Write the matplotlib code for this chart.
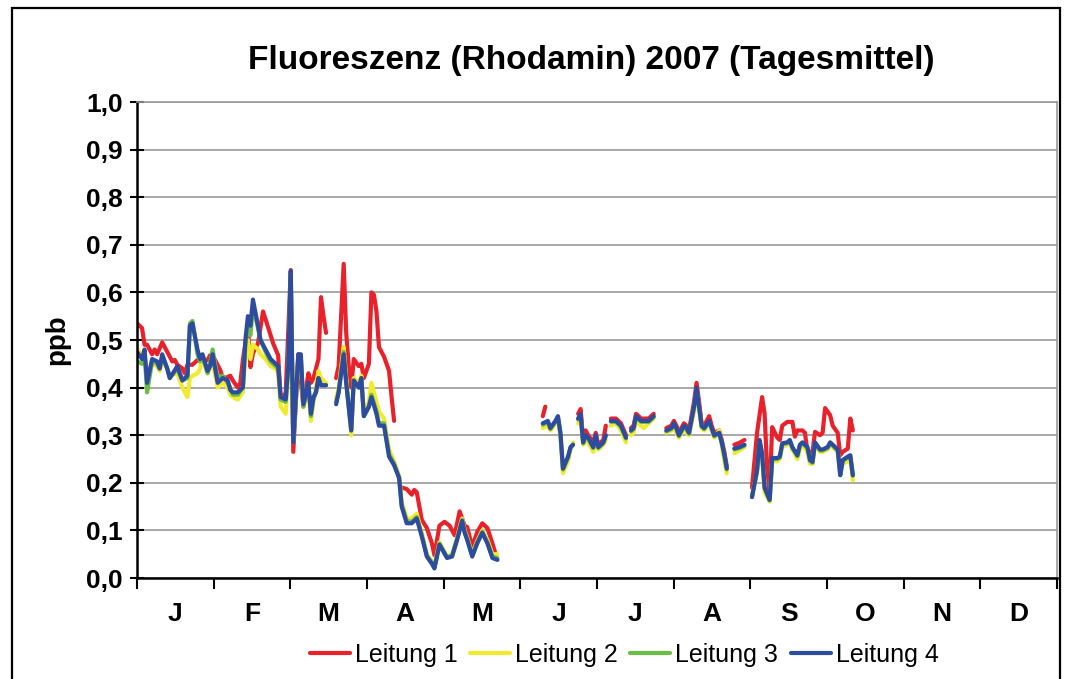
import numpy as np
import matplotlib
matplotlib.use("Agg")
import matplotlib.pyplot as plt
from matplotlib.patches import Rectangle

plt.rcParams['font.family'] = ['Liberation Sans', 'DejaVu Sans']

months = ['J', 'F', 'M', 'A', 'M', 'J', 'J', 'A', 'S', 'O', 'N', 'D']
yticks = [0.0, 0.1, 0.2, 0.3, 0.4, 0.5, 0.6, 0.7, 0.8, 0.9, 1.0]
series_names = ['Leitung 1', 'Leitung 2', 'Leitung 3', 'Leitung 4']
title = 'Fluoreszenz (Rhodamin) 2007 (Tagesmittel)'

# ---- day-of-year positions (segments separated by data gaps) ----
days_main = [
    [0, 2, 3, 4, 6, 8, 9, 10, 12, 13, 16, 18, 20, 21, 22, 24, 25, 26, 28, 29,
     30, 32, 34, 36, 37, 38, 40, 42, 43, 44, 45, 46, 48, 49, 51, 53, 55, 56, 57, 59,
     60, 61, 62, 64, 65, 66, 68, 69, 70, 71, 72, 73, 75],
    [79, 80, 82, 83, 85, 86, 88, 89, 90, 92, 93, 95, 96, 98, 100, 102, 104, 105, 107, 109,
     111, 113, 115, 117, 118, 120, 123, 125, 127, 129, 130, 131, 133, 135, 137, 139, 141, 143],
    [161, 163, 164, 166, 167, 168, 169, 171, 172, 173],
    [175, 176, 177, 178, 179, 181, 182, 183, 185, 186],
    [188, 190, 192, 194],
    [196, 197, 198, 200, 201, 203, 205],
    [210, 212, 213, 214, 215, 217, 218, 219, 221, 222, 223, 224, 225, 227, 228, 229, 231, 232, 233, 234],
    [237, 239, 241],
    [244, 246, 247, 248, 249, 251, 252, 254, 255, 256, 258, 259, 260, 262, 263, 264, 266, 267, 268, 269,
     271, 272, 274, 275, 276, 278, 279, 280, 282, 283, 284],
]

leitung4 = [
    [0.475, 0.46, 0.48, 0.41, 0.46, 0.455, 0.44, 0.47, 0.44, 0.42,
     0.445, 0.415, 0.425, 0.53, 0.535, 0.48, 0.46, 0.47, 0.435, 0.445,
     0.47, 0.41, 0.42, 0.415, 0.395, 0.39, 0.39, 0.40, 0.50, 0.55,
     0.53, 0.585, 0.53, 0.50, 0.48, 0.46, 0.45, 0.445, 0.38, 0.375,
     0.445, 0.645, 0.285, 0.47, 0.47, 0.365, 0.41, 0.345, 0.38, 0.39,
     0.42, 0.405, 0.405],
    [0.365, 0.39, 0.47, 0.41, 0.31, 0.415, 0.40, 0.42, 0.34, 0.36,
     0.38, 0.345, 0.32, 0.32, 0.255, 0.237, 0.21, 0.15, 0.115, 0.115,
     0.125, 0.087, 0.045, 0.03, 0.02, 0.07, 0.042, 0.045, 0.08, 0.12,
     0.095, 0.08, 0.045, 0.073, 0.095, 0.073, 0.042, 0.038],
    [0.325, 0.33, 0.315, 0.33, 0.34, 0.305, 0.23, 0.255, 0.275, 0.28],
    [0.335, 0.345, 0.285, 0.30, 0.295, 0.275, 0.30, 0.275, 0.285, 0.30],
    [0.33, 0.33, 0.32, 0.295],
    [0.31, 0.315, 0.34, 0.33, 0.33, 0.33, 0.34],
    [0.31, 0.315, 0.325, 0.315, 0.30, 0.32, 0.315, 0.305, 0.36, 0.40,
     0.36, 0.32, 0.315, 0.33, 0.315, 0.30, 0.305, 0.285, 0.26, 0.23],
    [0.272, 0.275, 0.28],
    [0.17, 0.227, 0.29, 0.262, 0.19, 0.164, 0.252, 0.252, 0.255, 0.283,
     0.285, 0.29, 0.275, 0.258, 0.28, 0.285, 0.275, 0.248, 0.244, 0.285,
     0.27, 0.27, 0.275, 0.285, 0.28, 0.27, 0.216, 0.248, 0.255, 0.258,
     0.216],
]

leitung2 = [
    [0.48, 0.47, 0.465, 0.43, 0.45, 0.445, 0.435, 0.455, 0.44, 0.425,
     0.43, 0.40, 0.38, 0.42, 0.425, 0.43, 0.44, 0.465, 0.43, 0.44,
     0.455, 0.40, 0.41, 0.40, 0.385, 0.38, 0.375, 0.39, 0.46, 0.50,
     0.46, 0.49, 0.48, 0.47, 0.46, 0.445, 0.44, 0.43, 0.36, 0.345,
     0.43, 0.60, 0.29, 0.46, 0.46, 0.36, 0.40, 0.33, 0.37, 0.40,
     0.435, 0.42, 0.41],
    [0.375, 0.40, 0.485, 0.42, 0.30, 0.42, 0.41, 0.425, 0.35, 0.37,
     0.41, 0.37, 0.35, 0.335, 0.27, 0.245, 0.215, 0.16, 0.125, 0.125,
     0.135, 0.095, 0.05, 0.035, 0.025, 0.075, 0.045, 0.05, 0.085, 0.125,
     0.10, 0.085, 0.05, 0.078, 0.10, 0.08, 0.05, 0.05],
    [0.315, 0.32, 0.31, 0.325, 0.335, 0.295, 0.22, 0.245, 0.27, 0.285],
    [0.325, 0.335, 0.28, 0.29, 0.285, 0.265, 0.29, 0.27, 0.28, 0.29],
    [0.32, 0.325, 0.31, 0.285],
    [0.30, 0.305, 0.33, 0.32, 0.315, 0.325, 0.335],
    [0.305, 0.31, 0.315, 0.305, 0.295, 0.315, 0.305, 0.30, 0.35, 0.39,
     0.355, 0.315, 0.31, 0.325, 0.31, 0.295, 0.31, 0.28, 0.245, 0.22],
    [0.262, 0.268, 0.275],
    [0.175, 0.22, 0.28, 0.25, 0.18, 0.16, 0.245, 0.245, 0.25, 0.275,
     0.28, 0.285, 0.27, 0.25, 0.27, 0.28, 0.265, 0.24, 0.24, 0.28,
     0.265, 0.265, 0.27, 0.28, 0.275, 0.265, 0.225, 0.24, 0.245, 0.25,
     0.205],
]

leitung3 = [
    [0.455, 0.45, 0.47, 0.39, 0.455, 0.45, 0.44, 0.465, 0.44, 0.42,
     0.44, 0.415, 0.42, 0.535, 0.54, 0.47, 0.455, 0.465, 0.43, 0.45,
     0.48, 0.42, 0.425, 0.41, 0.40, 0.385, 0.385, 0.40, 0.49, 0.53,
     0.51, 0.57, 0.525, 0.50, 0.475, 0.455, 0.445, 0.44, 0.375, 0.37,
     0.44, 0.635, 0.285, 0.465, 0.465, 0.36, 0.405, 0.34, 0.375, 0.39,
     0.42, 0.405, 0.405],
    [0.37, 0.39, 0.475, 0.41, 0.31, 0.415, 0.40, 0.42, 0.34, 0.36,
     0.385, 0.35, 0.325, 0.325, 0.26, 0.24, 0.21, 0.155, 0.12, 0.118,
     0.128, 0.09, 0.047, 0.032, 0.022, 0.072, 0.044, 0.047, 0.082, 0.122,
     0.097, 0.082, 0.047, 0.075, 0.097, 0.075, 0.045, 0.042],
    [0.322, 0.328, 0.313, 0.328, 0.338, 0.303, 0.228, 0.253, 0.273, 0.28],
    [0.333, 0.343, 0.283, 0.298, 0.293, 0.273, 0.298, 0.273, 0.283, 0.298],
    [0.328, 0.328, 0.318, 0.293],
    [0.308, 0.313, 0.338, 0.328, 0.328, 0.328, 0.338],
    [0.308, 0.313, 0.323, 0.313, 0.298, 0.318, 0.313, 0.303, 0.358, 0.398,
     0.358, 0.318, 0.313, 0.328, 0.313, 0.298, 0.303, 0.283, 0.258, 0.228],
    [0.27, 0.273, 0.278],
    [0.17, 0.225, 0.288, 0.26, 0.188, 0.163, 0.25, 0.25, 0.253, 0.281,
     0.283, 0.288, 0.273, 0.256, 0.278, 0.283, 0.273, 0.246, 0.242, 0.283,
     0.268, 0.268, 0.273, 0.283, 0.278, 0.268, 0.216, 0.246, 0.253, 0.256,
     0.215],
]

days_red = [
    [0, 2, 3, 4, 6, 7, 8, 10, 12, 14, 15, 16, 18, 19, 20, 22, 24, 26, 28, 29,
     31, 33, 34, 36, 37, 38, 40, 41, 42, 44, 45, 46, 48, 50, 52, 54, 56, 57, 59, 61,
     62, 64, 66, 68, 69, 70, 72, 73, 74, 75],
    [79, 80, 82, 83, 84, 85, 86, 88, 89, 90, 91, 92, 93, 94, 95, 96, 98, 100, 101, 102],
    [105, 107, 109, 110, 111, 113, 115, 117, 118, 120, 122, 124, 126, 128, 130, 131, 133, 135, 137, 139,
     141, 142],
    [161, 162],
    [175, 176, 177, 178, 179, 181, 182, 183, 185, 186],
    [188, 190, 192, 194],
    [196, 197, 198, 200, 201, 203, 205],
    [210, 212, 213, 214, 215, 217, 218, 219, 221, 222, 223, 224, 225, 227, 228, 229, 231, 232, 233, 234],
    [237, 239, 241],
    [244, 246, 248, 249, 250, 251, 252, 254, 255, 256, 258, 260, 261, 262, 264, 265, 266, 268, 269, 271,
     272, 273, 275, 276, 278, 279, 280, 282, 283, 284],
]

leitung1 = [
    [0.535, 0.525, 0.49, 0.49, 0.47, 0.48, 0.47, 0.495, 0.475, 0.455,
     0.458, 0.448, 0.44, 0.43, 0.448, 0.448, 0.458, 0.455, 0.458, 0.468,
     0.458, 0.437, 0.42, 0.422, 0.425, 0.415, 0.40, 0.41, 0.458, 0.527,
     0.443, 0.472, 0.493, 0.56, 0.527, 0.493, 0.468, 0.374, 0.389, 0.647,
     0.265, 0.47, 0.36, 0.43, 0.41, 0.42, 0.46, 0.59, 0.55, 0.515],
    [0.42, 0.445, 0.66, 0.515, 0.445, 0.40, 0.46, 0.445, 0.45, 0.42,
     0.435, 0.45, 0.60, 0.595, 0.56, 0.485, 0.465, 0.435, 0.38, 0.33],
    [0.19, 0.187, 0.175, 0.185, 0.18, 0.122, 0.105, 0.073, 0.048, 0.11,
     0.118, 0.11, 0.09, 0.14, 0.11, 0.107, 0.065, 0.097, 0.115, 0.105,
     0.073, 0.055],
    [0.34, 0.36],
    [0.345, 0.355, 0.29, 0.31, 0.30, 0.285, 0.305, 0.28, 0.29, 0.32],
    [0.335, 0.335, 0.325, 0.30],
    [0.315, 0.32, 0.345, 0.335, 0.335, 0.335, 0.345],
    [0.315, 0.32, 0.33, 0.32, 0.305, 0.325, 0.32, 0.31, 0.37, 0.41,
     0.37, 0.325, 0.32, 0.34, 0.32, 0.305, 0.31, 0.29, 0.265, 0.235],
    [0.28, 0.284, 0.29],
    [0.19, 0.305, 0.38, 0.345, 0.227, 0.185, 0.317, 0.295, 0.29, 0.32,
     0.328, 0.328, 0.297, 0.31, 0.31, 0.305, 0.265, 0.265, 0.307, 0.30,
     0.305, 0.357, 0.342, 0.32, 0.305, 0.258, 0.265, 0.272, 0.335, 0.31],
]

colors = ['#E8212B', '#F2EA2E', '#6CBD45', '#2D4C9F']


def join(segments):
    out = []
    for i, seg in enumerate(segments):
        if i:
            out.append(np.nan)
        out.extend(seg)
    return np.array(out, dtype=float)


W, H = 1066, 679
fig = plt.figure(figsize=(W / 100, H / 100), dpi=100)
ax = fig.add_axes([137 / W, 1 - 578 / H, (1057 - 137) / W, (578 - 102) / H])

series = [
    (days_red, leitung1),
    (days_main, leitung2),
    (days_main, leitung3),
    (days_main, leitung4),
]
for (d, v), c, name in zip(series, colors, series_names):
    ax.plot(join(d), join(v), color=c, lw=3.0, label=name,
            solid_joinstyle='round', solid_capstyle='round')

ax.set_xlim(0, 365)
ax.set_ylim(0, 1.0)
ax.set_yticks(yticks)
ax.set_yticklabels([f'{t:.1f}'.replace('.', ',') for t in yticks],
                   fontsize=19, fontweight='bold')
ax.yaxis.grid(True, color='#999999', lw=1.2)
ax.set_axisbelow(True)

month_len = 365 / 12
ax.set_xticks([i * month_len for i in range(13)])
ax.set_xticklabels([])
ax.set_xticks([(i + 0.5) * month_len for i in range(12)], minor=True)
ax.set_xticklabels(months, minor=True, fontsize=19, fontweight='bold')
ax.tick_params(axis='x', which='major', direction='out', length=8, width=1.5)
ax.tick_params(axis='x', which='minor', length=0, pad=17)
ax.tick_params(axis='y', direction='inout', length=10, width=1.5, pad=5)

for s in ['left', 'bottom']:
    ax.spines[s].set_linewidth(1.8)
    ax.spines[s].set_color('black')
for s in ['top', 'right']:
    ax.spines[s].set_linewidth(1.2)
    ax.spines[s].set_color('#999999')

fig.text(591 / W, 1 - 60 / H, title, ha='center', va='center',
         fontsize=24, fontweight='bold')
fig.text(57 / W, 1 - 340 / H, 'ppb', rotation=90, ha='center', va='center',
         fontsize=20, fontweight='bold')

fig.legend(loc='center', bbox_to_anchor=(624 / W, 1 - 655 / H), ncol=4,
           frameon=False, fontsize=18, handlelength=1.6, handletextpad=0.2,
           columnspacing=0.5)

fig.patches.append(Rectangle((12 / W, -0.01), (1060 - 12) / W, (679 - 8) / H + 0.01,
                             transform=fig.transFigure, fill=False,
                             edgecolor='black', lw=1.6))

fig.savefig('out.png', dpi=100)
